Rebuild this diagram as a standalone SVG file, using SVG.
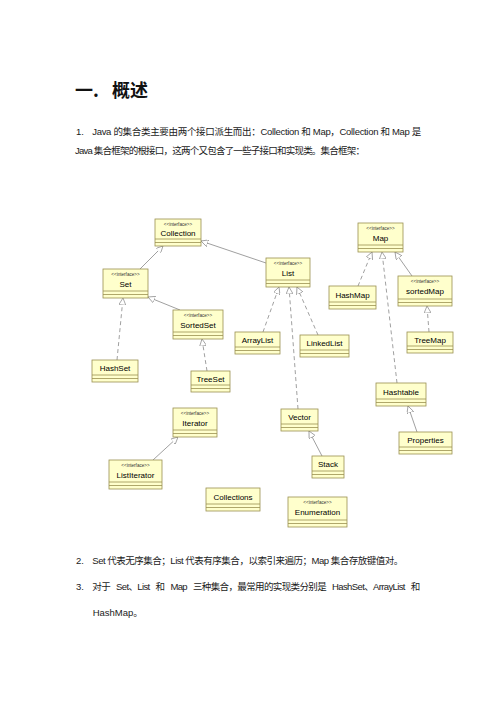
<svg xmlns="http://www.w3.org/2000/svg" width="496" height="702" viewBox="0 0 496 702">
<style>
.bg{fill:#ffffff}
.box{fill:#ffffcc;stroke:#9a9050;stroke-width:0.8}
.div{stroke:#9a9050;stroke-width:0.8;fill:none}
.name{font-family:"Liberation Sans","DejaVu Sans",sans-serif;font-size:8px;fill:#000;text-anchor:middle}
.st{font-family:"Liberation Sans","DejaVu Sans",sans-serif;font-size:4.6px;fill:#333;text-anchor:middle}
.body{font-family:"Liberation Sans","Noto Sans CJK SC",sans-serif;font-size:9.5px;fill:#1a1a1a}
.h1{font-family:"Noto Sans CJK SC",sans-serif;font-size:18px;font-weight:bold;fill:#111}
.solid{stroke:#888;stroke-width:0.8;fill:none;marker-end:url(#tri)}
.dash{stroke:#888;stroke-width:0.8;fill:none;stroke-dasharray:4 3;marker-end:url(#tri)}
</style>
<defs>
<marker id="tri" viewBox="0 0 10 10" refX="10" refY="5" markerUnits="userSpaceOnUse" markerWidth="7" markerHeight="7" orient="auto">
<path d="M0,0 L10,5 L0,10 z" fill="#ffffff" stroke="#888" stroke-width="1"/>
</marker>
</defs>
<rect class="bg" x="0" y="0" width="496" height="702"/>

<g id="text-top">
<text class="h1" x="75" y="97">一.</text>
<text class="h1" x="112" y="97">概述</text>
<text class="body" x="76" y="135">1.</text>
<text class="body" x="92.3" y="135" textLength="329" lengthAdjust="spacing">Java 的集合类主要由两个接口派生而出：Collection 和 Map，Collection 和 Map 是</text>
<text class="body" x="75" y="153.5" textLength="290" lengthAdjust="spacing">Java 集合框架的根接口，这两个又包含了一些子接口和实现类。集合框架：</text>
</g>

<g id="connectors">
<line class="solid" x1="140" y1="269" x2="163" y2="246"/>
<line class="solid" x1="266" y1="263" x2="201" y2="241"/>
<line class="solid" x1="180" y1="310" x2="148" y2="297"/>
<line class="dash" x1="117" y1="360" x2="123" y2="298"/>
<line class="dash" x1="207" y1="371" x2="202" y2="339"/>
<line class="dash" x1="263" y1="332" x2="279" y2="287"/>
<line class="dash" x1="298" y1="409" x2="289" y2="287"/>
<line class="dash" x1="318" y1="335" x2="297" y2="287"/>
<line class="dash" x1="358" y1="286" x2="372" y2="252"/>
<line class="dash" x1="397" y1="383" x2="382" y2="252"/>
<line class="solid" x1="412" y1="276" x2="395" y2="252"/>
<line class="dash" x1="429" y1="332" x2="427" y2="306"/>
<line class="solid" x1="417" y1="432" x2="408" y2="406"/>
<line class="solid" x1="322" y1="456" x2="309" y2="431"/>
<line class="solid" x1="153" y1="460" x2="178" y2="437"/>
</g>

<g id="Collection">
<rect class="box" x="155" y="219" width="46" height="27"/>
<path class="div" d="M155,239 H201 M155,242.5 H201"/>
<text class="st" x="178" y="226">&lt;&lt;interface&gt;&gt;</text>
<text class="name" x="178" y="236">Collection</text>
</g>
<g id="Set">
<rect class="box" x="103" y="269" width="45" height="29"/>
<path class="div" d="M103,291 H148 M103,294.5 H148"/>
<text class="st" x="125.5" y="276">&lt;&lt;interface&gt;&gt;</text>
<text class="name" x="125.5" y="287">Set</text>
</g>
<g id="SortedSet">
<rect class="box" x="173" y="310" width="50" height="29"/>
<path class="div" d="M173,332 H223 M173,335.5 H223"/>
<text class="st" x="198" y="317">&lt;&lt;interface&gt;&gt;</text>
<text class="name" x="198" y="328">SortedSet</text>
</g>
<g id="List">
<rect class="box" x="266" y="258" width="44" height="29"/>
<path class="div" d="M266,280 H310 M266,283.5 H310"/>
<text class="st" x="288" y="265">&lt;&lt;interface&gt;&gt;</text>
<text class="name" x="288" y="276">List</text>
</g>
<g id="ArrayList">
<rect class="box" x="235" y="332" width="45" height="22"/>
<path class="div" d="M235,347 H280 M235,350.5 H280"/>
<text class="name" x="257.5" y="343">ArrayList</text>
</g>
<g id="LinkedList">
<rect class="box" x="300" y="335" width="49" height="22"/>
<path class="div" d="M300,350 H349 M300,353.5 H349"/>
<text class="name" x="324.5" y="346">LinkedList</text>
</g>
<g id="Map">
<rect class="box" x="358" y="223" width="45" height="29"/>
<path class="div" d="M358,245 H403 M358,248.5 H403"/>
<text class="st" x="380.5" y="230">&lt;&lt;interface&gt;&gt;</text>
<text class="name" x="380.5" y="241">Map</text>
</g>
<g id="HashMap">
<rect class="box" x="329" y="286" width="47" height="23"/>
<path class="div" d="M329,302 H376 M329,305.5 H376"/>
<text class="name" x="352.5" y="297.5">HashMap</text>
</g>
<g id="sortedMap">
<rect class="box" x="398" y="276" width="54" height="30"/>
<path class="div" d="M398,299 H452 M398,302.5 H452"/>
<text class="st" x="425" y="283">&lt;&lt;interface&gt;&gt;</text>
<text class="name" x="425" y="294">sortedMap</text>
</g>
<g id="TreeMap">
<rect class="box" x="407" y="332" width="46" height="21"/>
<path class="div" d="M407,346 H453 M407,349.5 H453"/>
<text class="name" x="430" y="342.5">TreeMap</text>
</g>
<g id="HashSet">
<rect class="box" x="92" y="360" width="46" height="22"/>
<path class="div" d="M92,375 H138 M92,378.5 H138"/>
<text class="name" x="115" y="371">HashSet</text>
</g>
<g id="TreeSet">
<rect class="box" x="191" y="371" width="39" height="21"/>
<path class="div" d="M191,385 H230 M191,388.5 H230"/>
<text class="name" x="210.5" y="381.5">TreeSet</text>
</g>
<g id="Iterator">
<rect class="box" x="173" y="408" width="44" height="29"/>
<path class="div" d="M173,430 H217 M173,433.5 H217"/>
<text class="st" x="195" y="415">&lt;&lt;interface&gt;&gt;</text>
<text class="name" x="195" y="426">Iterator</text>
</g>
<g id="Vector">
<rect class="box" x="281" y="409" width="37" height="22"/>
<path class="div" d="M281,424 H318 M281,427.5 H318"/>
<text class="name" x="299.5" y="420">Vector</text>
</g>
<g id="Hashtable">
<rect class="box" x="376" y="383" width="50" height="23"/>
<path class="div" d="M376,399 H426 M376,402.5 H426"/>
<text class="name" x="401" y="394.5">Hashtable</text>
</g>
<g id="Properties">
<rect class="box" x="399" y="432" width="53" height="22"/>
<path class="div" d="M399,447 H452 M399,450.5 H452"/>
<text class="name" x="425.5" y="443">Properties</text>
</g>
<g id="Stack">
<rect class="box" x="312" y="456" width="32" height="22"/>
<path class="div" d="M312,471 H344 M312,474.5 H344"/>
<text class="name" x="328" y="467">Stack</text>
</g>
<g id="ListIterator">
<rect class="box" x="109" y="460" width="53" height="29"/>
<path class="div" d="M109,482 H162 M109,485.5 H162"/>
<text class="st" x="135.5" y="467">&lt;&lt;interface&gt;&gt;</text>
<text class="name" x="135.5" y="478">ListIterator</text>
</g>
<g id="Collections">
<rect class="box" x="206" y="488" width="54" height="23"/>
<path class="div" d="M206,504 H260 M206,507.5 H260"/>
<text class="name" x="233" y="499.5">Collections</text>
</g>
<g id="Enumeration">
<rect class="box" x="288" y="497" width="59" height="30"/>
<path class="div" d="M288,520 H347 M288,523.5 H347"/>
<text class="st" x="317.5" y="504">&lt;&lt;interface&gt;&gt;</text>
<text class="name" x="317.5" y="515">Enumeration</text>
</g>

<g id="text-bottom">
<text class="body" x="76" y="564">2.</text>
<text class="body" x="92.3" y="564" textLength="311" lengthAdjust="spacing">Set 代表无序集合；List 代表有序集合，以索引来遍历；Map 集合存放键值对。</text>
<text class="body" x="76" y="590">3.</text>
<text class="body" x="92.3" y="590" textLength="328" lengthAdjust="spacing" word-spacing="4">对于 Set、List 和 Map 三种集合，最常用的实现类分别是 HashSet、ArrayList 和</text>
<text class="body" x="92.7" y="616">HashMap。</text>
</g>
</svg>
